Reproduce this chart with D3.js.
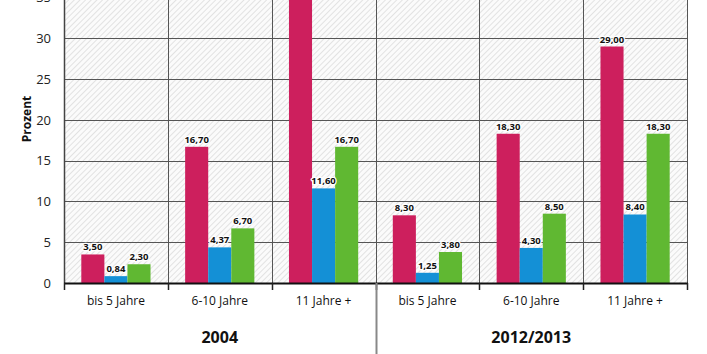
<!DOCTYPE html>
<html><head><meta charset="utf-8">
<script src="https://cdn.jsdelivr.net/npm/d3@7"></script>
<style>body{margin:0;background:#fff}svg{display:block}text{font-family:"Open Sans",sans-serif}</style>
</head><body><svg id="c" width="707" height="354"></svg>
<script>
const periods = ["2004", "2012/2013"];
const categories = ["bis 5 Jahre", "6-10 Jahre", "11 Jahre +"];
const seriesNames = ["s1", "s2", "s3"];
const colors = ["#cd1f5d", "#1490d6", "#60b832"];
// values per period x category: [pink, blue, green]
const values2004 = [[3.50, 0.84, 2.30], [16.70, 4.37, 6.70], [38.00, 11.60, 16.70]];
const values2012 = [[8.30, 1.25, 3.80], [18.30, 4.30, 8.50], [29.00, 8.40, 18.30]];
const yTicks = [0, 5, 10, 15, 20, 25, 30, 35];

const svg = d3.select("#c");
const L = 64, R = 687, B = 283, pxPerUnit = 8.155;
const yMax = 42;
const y = d3.scaleLinear().domain([0, yMax]).range([B, B - yMax * pxPerUnit]);

const groups = [];
periods.forEach((p, pi) => categories.forEach((c, ci) => groups.push({key: p + "|" + c, period: p, cat: c, vals: (pi === 0 ? values2004 : values2012)[ci]})));
const x0 = d3.scaleBand().domain(groups.map(g => g.key)).range([L, R]).paddingInner(0).paddingOuter(0);
const x1 = d3.scaleBand().domain(seriesNames).range([x0.bandwidth() / 6, x0.bandwidth() * 5 / 6]).padding(0);

const defs = svg.append("defs");
const pat = defs.append("pattern").attr("id", "hatch").attr("patternUnits", "userSpaceOnUse")
  .attr("width", 4).attr("height", 4).attr("patternTransform", "rotate(45)");
pat.append("rect").attr("width", 4).attr("height", 4).attr("fill", "#fbfbfb");
pat.append("line").attr("x1", 0).attr("y1", 0).attr("x2", 0).attr("y2", 4).attr("stroke", "#cdcdcd").attr("stroke-width", 1.1);

svg.append("rect").attr("x", L).attr("y", y(yMax)).attr("width", R - L).attr("height", B - y(yMax)).attr("fill", "url(#hatch)");

// horizontal gridlines
svg.append("g").selectAll("line").data(yTicks.filter(t => t > 0)).join("line")
  .attr("x1", L).attr("x2", R).attr("y1", d => Math.round(y(d)) + 0.5).attr("y2", d => Math.round(y(d)) + 0.5)
  .attr("stroke", "#555").attr("stroke-width", 1);
// vertical gridlines
const bounds = groups.map(g => x0(g.key)).concat([R]);
svg.append("g").selectAll("line").data(bounds).join("line")
  .attr("x1", d => Math.round(d) + 0.5).attr("x2", d => Math.round(d) + 0.5).attr("y1", y(yMax)).attr("y2", B)
  .attr("stroke", "#555").attr("stroke-width", 1);

// bars
const gg = svg.append("g").selectAll("g").data(groups).join("g").attr("transform", d => `translate(${x0(d.key)},0)`);
gg.selectAll("rect").data(d => d.vals.map((v, i) => ({v, i}))).join("rect")
  .attr("x", d => x1(seriesNames[d.i])).attr("width", x1.bandwidth())
  .attr("y", d => y(d.v)).attr("height", d => B - y(d.v)).attr("fill", d => colors[d.i]);
gg.selectAll("text").data(d => d.vals.map((v, i) => ({v, i}))).join("text")
  .attr("x", d => x1(seriesNames[d.i]) + x1.bandwidth() / 2).attr("y", d => y(d.v) - 4)
  .attr("text-anchor", "middle").attr("font-size", "9.5px").attr("font-weight", "bold").attr("fill", "#111")
  .attr("stroke", "#fff").attr("stroke-width", 2.5).attr("paint-order", "stroke").attr("stroke-linejoin", "round")
  .text(d => d.v.toFixed(2).replace(".", ","));

// y axis
const yAxis = d3.axisLeft(y).tickValues(yTicks).tickSize(0).tickPadding(13);
const ya = svg.append("g").attr("transform", `translate(${L},0)`).call(yAxis);
ya.select(".domain").remove();
ya.selectAll("text").attr("font-size", "13px").attr("fill", "#222").attr("font-family", "'Open Sans',sans-serif");
svg.append("line").attr("x1", L + 0.5).attr("x2", L + 0.5).attr("y1", y(yMax)).attr("y2", B).attr("stroke", "#444").attr("stroke-width", 1.5);

// x axis
svg.append("line").attr("x1", L).attr("x2", R + 1).attr("y1", B + 0.5).attr("y2", B + 0.5).attr("stroke", "#111").attr("stroke-width", 2);
svg.append("g").selectAll("line").data(bounds).join("line")
  .attr("x1", d => Math.round(d) + 0.5).attr("x2", d => Math.round(d) + 0.5).attr("y1", B).attr("y2", B + 7)
  .attr("stroke", "#222").attr("stroke-width", 1.5);
svg.append("g").selectAll("text").data(groups).join("text")
  .attr("x", d => x0(d.key) + x0.bandwidth() / 2).attr("y", 305)
  .attr("text-anchor", "middle").attr("font-size", "12px").attr("fill", "#111").text(d => d.cat);

// period separator & labels
const sepX = x0(periods[1] + "|" + categories[0]);
svg.append("line").attr("x1", Math.round(sepX) + 0.5).attr("x2", Math.round(sepX) + 0.5).attr("y1", B).attr("y2", 354)
  .attr("stroke", "#888").attr("stroke-width", 2);
svg.append("g").selectAll("text").data(periods).join("text")
  .attr("x", (d, i) => i === 0 ? (L + sepX) / 2 : (sepX + R) / 2).attr("y", 343)
  .attr("text-anchor", "middle").attr("font-size", "16px").attr("font-weight", "bold").attr("fill", "#111").text(d => d);

svg.append("text").attr("transform", "translate(31,119) rotate(-90)").attr("text-anchor", "middle")
  .attr("font-size", "12px").attr("font-weight", "bold").attr("fill", "#111").text("Prozent");
</script></body></html>
